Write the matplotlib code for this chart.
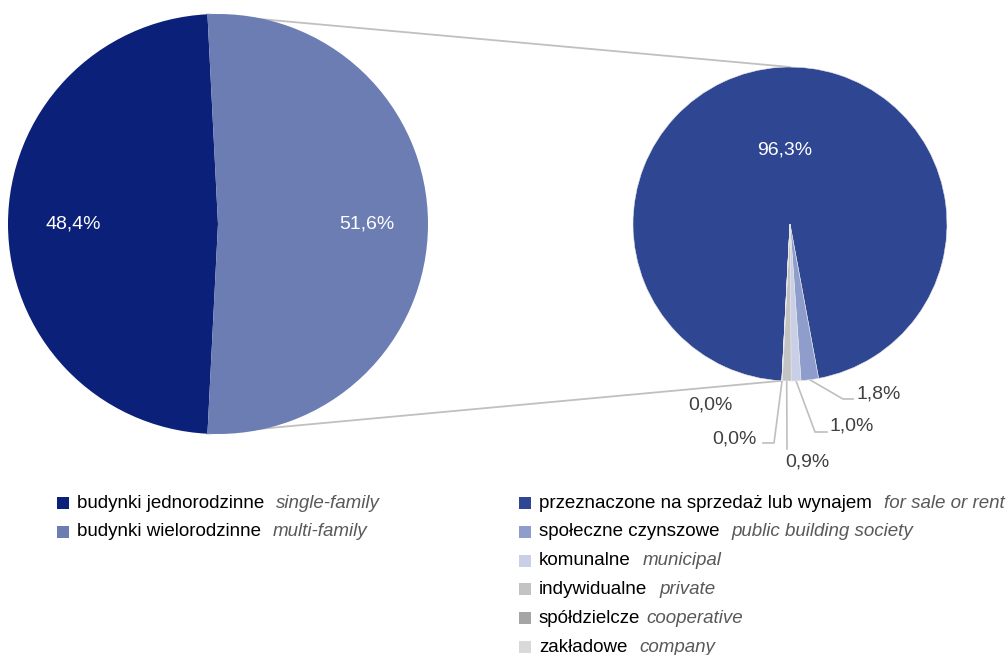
import numpy as np
import matplotlib.pyplot as plt
from matplotlib.patches import Rectangle

plt.rcParams['font.family'] = ['Liberation Sans', 'DejaVu Sans']

W, H = 1006, 655

# left pie: budynki
main_labels = ['budynki jednorodzinne', 'budynki wielorodzinne']
main_labels_en = ['single-family', 'multi-family']
main_values = [48.4, 51.6]
main_colors = ['#0b2079', '#6b7db3']

# right pie: breakdown
sub_labels = ['przeznaczone na sprzedaż lub wynajem', 'społeczne czynszowe',
              'komunalne', 'indywidualne', 'spółdzielcze', 'zakładowe']
sub_labels_en = ['for sale or rent', 'public building society', 'municipal',
                 'private', 'cooperative', 'company']
sub_values = [96.3, 1.8, 1.0, 0.9, 0.04, 0.01]
sub_colors = ['#2f4692', '#8e9dcb', '#c9cfe6', '#c3c3c3', '#a5a5a5', '#d9d9d9']


def img(x, y):
    # picture coords (y down) -> axes coords (y up)
    return x, H - y


def fmt(v):
    return ('%.1f%%' % v).replace('.', ',')


def edge(c, r, ang):
    a = np.deg2rad(ang)
    return c[0] + r * np.cos(a), c[1] + r * np.sin(a)


fig = plt.figure(figsize=(W / 100, H / 100), dpi=100)
ax = fig.add_axes([0, 0, 1, 1])

c1, r1 = img(218, 224), 210
c2, r2 = img(790, 224), 157

w1, _ = ax.pie(main_values, colors=main_colors, center=c1, radius=r1,
               startangle=180 - main_values[0] * 1.8, counterclock=True,
               wedgeprops=dict(linewidth=0))
w2, _ = ax.pie(sub_values, colors=sub_colors, center=c2, radius=r2,
               startangle=267, counterclock=False,
               wedgeprops=dict(linewidth=0.4, edgecolor='#e6e6e6'))
for w in w1 + w2:
    w.set_zorder(3)

# connector lines
top1 = edge(c1, r1, w1[1].theta2)
bot1 = edge(c1, r1, w1[1].theta1)
top2 = edge(c2, r2, 90)
bot2 = edge(c2, r2, 267)
ax.plot([top1[0], top2[0]], [top1[1], top2[1]], color='#c0c0c0', lw=1.3, zorder=1)
ax.plot([bot1[0], bot2[0]], [bot1[1], bot2[1]], color='#c0c0c0', lw=1.3, zorder=1)

fs = 13.5
pfs = 14

# inside labels
for w, v, d in zip(w1, main_values, [0.69, 0.71]):
    m = (w.theta1 + w.theta2) / 2
    x, y = edge(c1, r1 * d, m)
    ax.text(x, y, fmt(v), color='white', fontsize=pfs, ha='center', va='center', zorder=5)
m = (w2[0].theta1 + w2[0].theta2) / 2
x, y = edge(c2, r2 * 0.47, m)
ax.text(x, y, fmt(sub_values[0]), color='white', fontsize=pfs, ha='center', va='center', zorder=5)

# outside labels with leaders (picture coords)
lab_pos = [(857, 394, 'left'), (830, 426, 'left'), (785, 462, 'left'),
           (757, 439, 'right'), (688, 405, 'left')]
leaders = [[(843, 399), (853, 399)],
           [(815, 432), (827, 432)],
           [(787, 449)],
           [(774, 443), (763, 443)],
           []]
for i in range(1, len(sub_values)):
    w = w2[i]
    m = (w.theta1 + w.theta2) / 2
    p0 = edge(c2, r2, m)
    pts = [p0] + [img(*p) for p in leaders[i - 1]]
    if len(pts) > 1:
        xs, ys = zip(*pts)
        ax.plot(xs, ys, color='#bfbfbf', lw=1.2, zorder=2)
    lx, ly, ha = lab_pos[i - 1]
    ax.text(*img(lx, ly), fmt(sub_values[i]), color='#404040', fontsize=pfs,
            ha=ha, va='center', zorder=5)

ax.set_xlim(0, W)
ax.set_ylim(0, H)
ax.axis('off')

# legend
renderer = fig.canvas.get_renderer()


def legend_row(x, y, col, pl, en, gap=12):
    sx, sy = img(x, y + 6)
    ax.add_patch(Rectangle((sx, sy), 12, 12, color=col, lw=0, zorder=5))
    t = ax.text(*img(x + 20, y), pl, fontsize=fs, color='black', ha='left', va='center')
    bb = t.get_window_extent(renderer)
    ax.text(bb.x1 + gap, H - y, en, fontsize=fs, color='#595959', style='italic',
            ha='left', va='center')


for i in range(len(main_labels)):
    legend_row(57, 503 + i * 29, main_colors[i], main_labels[i], main_labels_en[i])
for i in range(len(sub_labels)):
    legend_row(519, 503 + i * 28.8, sub_colors[i], sub_labels[i], sub_labels_en[i],
               gap=6 if i == 4 else 12)

fig.savefig('out.png', dpi=100, facecolor='white')
